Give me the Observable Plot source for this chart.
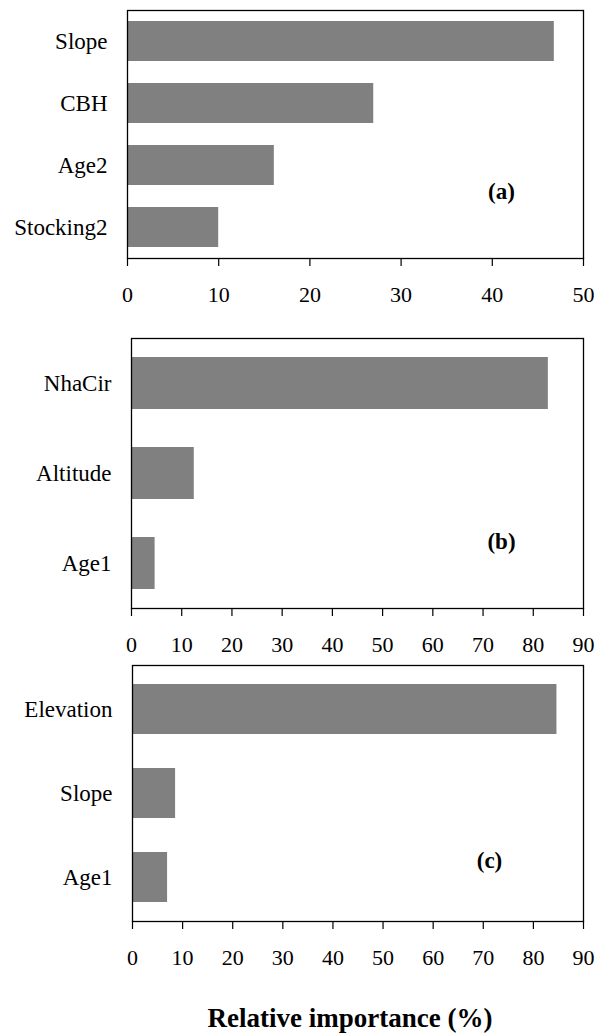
<!DOCTYPE html>
<html>
<head>
<meta charset="utf-8">
<script src="https://cdn.jsdelivr.net/npm/d3@7"></script>
<script src="https://cdn.jsdelivr.net/npm/@observablehq/plot@0.6"></script>
<style>
  html, body { margin: 0; padding: 0; background: #fff; }
  #wrap { position: relative; width: 595px; height: 1034px; font-family: "Liberation Serif", "Times New Roman", serif; }
  .panel { position: absolute; left: 0; }
  #title { position: absolute; top: 1003px; left: 0; width: 700px; text-align: center; font-weight: bold; font-size: 27px; color: #000; }
</style>
</head>
<body>
<div id="wrap">
  <div class="panel" id="pa" style="top:0px"></div>
  <div class="panel" id="pb" style="top:320px"></div>
  <div class="panel" id="pc" style="top:660px"></div>
  <div id="title">Relative importance (%)</div>
</div>
<script>
// Panel (a)
const catsA = ["Slope", "CBH", "Age2", "Stocking2"];
const valsA = [46.8, 27.0, 16.1, 10.0];
const ticksA = [0, 10, 20, 30, 40, 50];
// Panel (b)
const catsB = ["NhaCir", "Altitude", "Age1"];
const valsB = [83.0, 12.5, 4.7];
// Panel (c)
const catsC = ["Elevation", "Slope", "Age1"];
const valsC = [84.7, 8.6, 7.0];
const ticksBC = [0, 10, 20, 30, 40, 50, 60, 70, 80, 90];
const panelLabels = ["(a)", "(b)", "(c)"];

function makePanel(cats, vals, ticks, label, o) {
  const data = cats.map((c, i) => ({cat: c, val: vals[i]}));
  return Plot.plot({
    width: 595,
    height: o.height,
    marginTop: o.mt,
    marginBottom: o.mb,
    marginLeft: o.ml,
    marginRight: 12,
    style: {fontFamily: '"Liberation Serif", "Times New Roman", serif', color: "#000", background: "#fff", overflow: "visible"},
    x: {domain: [ticks[0], ticks[ticks.length - 1]]},
    y: {domain: cats, paddingInner: o.pi, paddingOuter: o.po},
    marks: [
      Plot.barX(data, {x: "val", y: "cat", fill: "#808080"}),
      Plot.frame({stroke: "#000", strokeWidth: 1.3}),
      Plot.axisX({ticks: ticks, tickSize: 8, tickPadding: 20, fontSize: 22, label: null, tickFormat: d => String(d), strokeWidth: 1.2}),
      Plot.axisY({tickSize: 0, tickPadding: 20, fontSize: 23, label: null}),
      Plot.text([label], {text: d => d, frameAnchor: "bottom-right", dx: o.dx, dy: o.dy, fontWeight: "bold", fontSize: 23, textAnchor: "middle"})
    ]
  });
}

document.getElementById("pa").appendChild(makePanel(catsA, valsA, ticksA, panelLabels[0],
  {height: 320, mt: 10, mb: 62, ml: 127, pi: 0.35, po: 0.175, dx: -82, dy: -60}));
document.getElementById("pb").appendChild(makePanel(catsB, valsB, ticksBC, panelLabels[1],
  {height: 340, mt: 18, mb: 52, ml: 131, pi: 0.42, po: 0.21, dx: -82, dy: -60}));
document.getElementById("pc").appendChild(makePanel(catsC, valsC, ticksBC, panelLabels[2],
  {height: 320, mt: 5, mb: 59, ml: 132, pi: 0.4, po: 0.21, dx: -94, dy: -54}));
</script>
</body>
</html>
